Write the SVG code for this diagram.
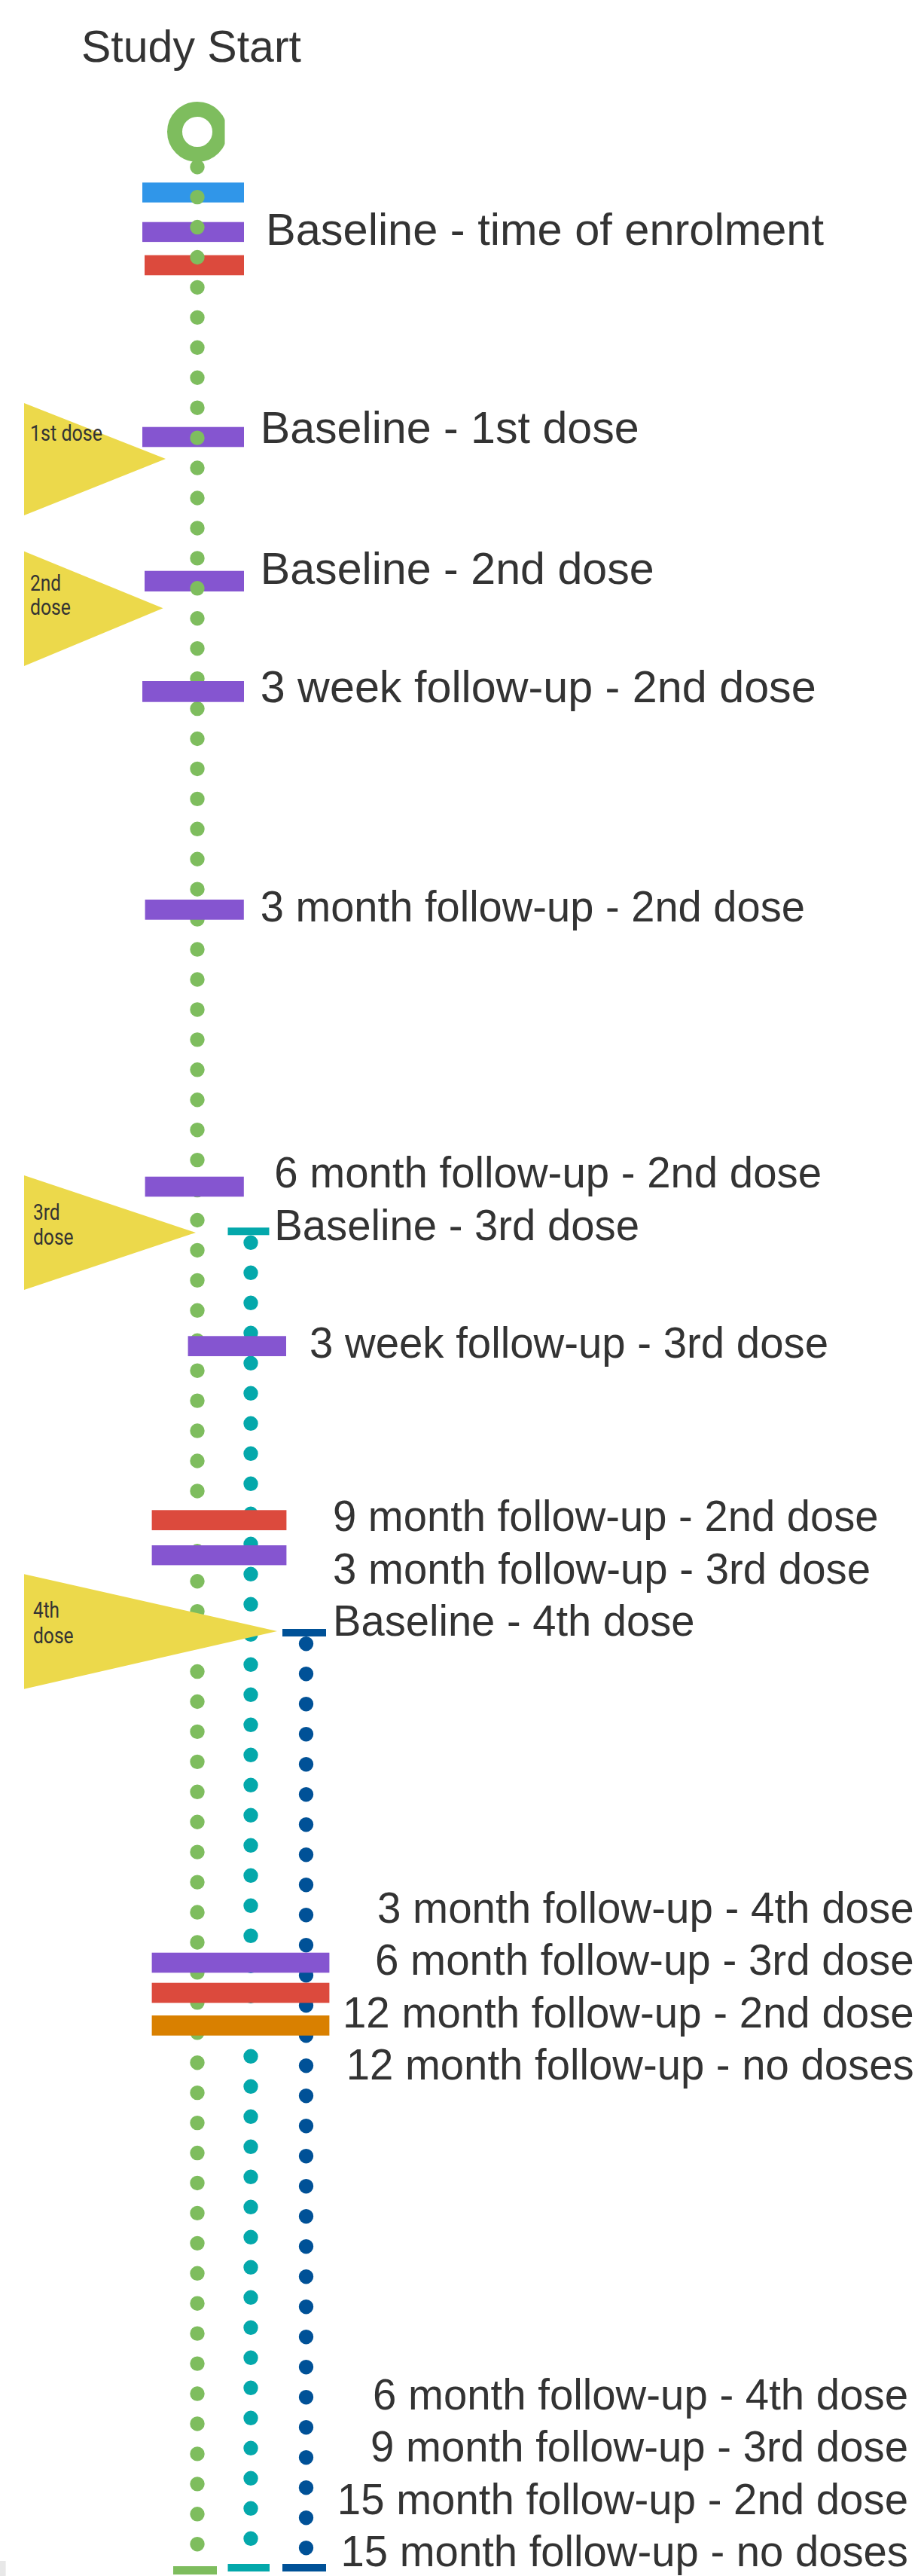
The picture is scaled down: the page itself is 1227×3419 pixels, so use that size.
<svg xmlns="http://www.w3.org/2000/svg" width="1227" height="3419" viewBox="0 0 1227 3419">
<defs>
<style>
.lbl{font-family:"Liberation Sans",Arial,sans-serif;fill:#333333;}
.big{font-size:59.5px;}
.med{font-size:56.5px;}
.dose{font-family:Roboto,"Liberation Sans",sans-serif;font-size:30px;fill:#333333;}
.tri{fill:#ECD94B;}
.blue{fill:#3096E9;}
.purple{fill:#8555D0;}
.red{fill:#DC4A3D;}
.orange{fill:#D98000;}
.teal{fill:#04A8AB;}
.navy{fill:#005197;}
.green{fill:#7EBD5E;}
.dots{fill:none;stroke-linecap:round;stroke-width:19.4;}
</style>
<clipPath id="ringclip"><rect x="0" y="100" width="298.5" height="140"/></clipPath>
</defs>
<rect width="1227" height="3419" fill="#ffffff"/>
<rect x="0" y="3399" width="7.6" height="20" fill="#E8E8E8"/>

<g id="study-start">
<text class="lbl" x="108" y="82" font-size="59" textLength="292" lengthAdjust="spacingAndGlyphs">Study Start</text>
<circle cx="262" cy="175" r="30" fill="none" stroke="#7EBD5E" stroke-width="20" clip-path="url(#ringclip)"/>
</g>

<!-- bars drawn beneath the dots -->
<g id="baseline-enrolment">
<rect class="blue" x="189" y="242.3" width="135" height="26.4"/>
<rect class="purple" x="189" y="294.7" width="135" height="26.4"/>
<rect class="red" x="192" y="338.7" width="132" height="26.6"/>
<text class="lbl big" x="353" y="325" textLength="741" lengthAdjust="spacingAndGlyphs">Baseline - time of enrolment</text>
</g>
<g id="baseline-1st-dose">
<rect class="purple" x="189" y="566.7" width="135" height="26.6"/>
<text class="lbl big" x="345.7" y="588.3" textLength="503" lengthAdjust="spacingAndGlyphs">Baseline - 1st dose</text>
</g>
<g id="baseline-2nd-dose">
<rect class="purple" x="192" y="757.7" width="132" height="27.3"/>
<text class="lbl big" x="345.7" y="775" textLength="523" lengthAdjust="spacingAndGlyphs">Baseline - 2nd dose</text>
</g>

<g id="connectors">
<line class="dots" x1="262" y1="221.7" x2="262" y2="3377" stroke="#7EBD5E" stroke-dasharray="0 39.937"/>
<line class="dots" x1="333" y1="1649.3" x2="333" y2="3370" stroke="#04A8AB" stroke-dasharray="0 40"/>
<line class="dots" x1="406.5" y1="2181.7" x2="406.5" y2="3382" stroke="#005197" stroke-dasharray="0 40"/>
<rect class="green" x="230" y="3406" width="58" height="11"/>
<rect class="teal" x="302.5" y="3403" width="55.5" height="10"/>
<rect class="navy" x="375" y="3403" width="58" height="10"/>
</g>

<g id="dose-1">
<polygon class="tri" points="32,535 220,609 32,684"/>
<text class="dose" x="40" y="585" textLength="96" lengthAdjust="spacingAndGlyphs">1st dose</text>
</g>
<g id="dose-2">
<polygon class="tri" points="32,731.7 216.5,807.3 32,884"/>
<text class="dose" x="40" y="784" textLength="41" lengthAdjust="spacingAndGlyphs">2nd</text>
<text class="dose" x="40" y="815.7" textLength="54" lengthAdjust="spacingAndGlyphs">dose</text>
</g>

<g id="followup-3wk-2nd">
<rect class="purple" x="189" y="904" width="135" height="27.7"/>
<text class="lbl big" x="345.7" y="932.3" textLength="738" lengthAdjust="spacingAndGlyphs">3 week follow-up - 2nd dose</text>
</g>
<g id="followup-3mo-2nd">
<rect class="purple" x="192.6" y="1194" width="131.2" height="26.7"/>
<text class="lbl med" x="345.7" y="1223" textLength="723.3" lengthAdjust="spacingAndGlyphs">3 month follow-up - 2nd dose</text>
</g>
<g id="followup-6mo-2nd">
<rect class="purple" x="192.6" y="1561.7" width="131.2" height="26.6"/>
<text class="lbl med" x="364.3" y="1576" textLength="726.7" lengthAdjust="spacingAndGlyphs">6 month follow-up - 2nd dose</text>
</g>
<g id="dose-3">
<polygon class="tri" points="32,1560 260,1636 32,1712"/>
<text class="dose" x="44" y="1619" textLength="35.6" lengthAdjust="spacingAndGlyphs">3rd</text>
<text class="dose" x="44" y="1652" textLength="53.6" lengthAdjust="spacingAndGlyphs">dose</text>
</g>
<g id="baseline-3rd-dose">
<rect class="teal" x="302.5" y="1629.3" width="55" height="10"/>
<text class="lbl med" x="364.3" y="1646" textLength="484.7" lengthAdjust="spacingAndGlyphs">Baseline - 3rd dose</text>
</g>
<g id="followup-3wk-3rd">
<rect class="purple" x="249.6" y="1773.3" width="130.4" height="26.7"/>
<text class="lbl med" x="411" y="1801.7" textLength="689" lengthAdjust="spacingAndGlyphs">3 week follow-up - 3rd dose</text>
</g>
<g id="followup-9mo-2nd">
<rect class="red" x="201.6" y="2004.3" width="178.8" height="26.7"/>
<text class="lbl med" x="442" y="2031.7" textLength="724.6" lengthAdjust="spacingAndGlyphs">9 month follow-up - 2nd dose</text>
</g>
<g id="followup-3mo-3rd">
<rect class="purple" x="201.6" y="2051" width="178.8" height="26.4"/>
<text class="lbl med" x="442" y="2101.7" textLength="714" lengthAdjust="spacingAndGlyphs">3 month follow-up - 3rd dose</text>
</g>
<g id="dose-4">
<polygon class="tri" points="32,2089.3 368,2165 32,2241.7"/>
<text class="dose" x="44" y="2147.3" textLength="35" lengthAdjust="spacingAndGlyphs">4th</text>
<text class="dose" x="44" y="2180.7" textLength="53.6" lengthAdjust="spacingAndGlyphs">dose</text>
</g>
<g id="baseline-4th-dose">
<rect class="navy" x="375" y="2162" width="58" height="10"/>
<text class="lbl med" x="442" y="2170.5" textLength="480.6" lengthAdjust="spacingAndGlyphs">Baseline - 4th dose</text>
</g>
<g id="followup-3mo-4th">
<text class="lbl med" x="501" y="2551.7" textLength="712.7" lengthAdjust="spacingAndGlyphs">3 month follow-up - 4th dose</text>
</g>
<g id="followup-6mo-3rd">
<rect class="purple" x="201.6" y="2591.7" width="235.8" height="26.6"/>
<text class="lbl med" x="498" y="2620.7" textLength="715.7" lengthAdjust="spacingAndGlyphs">6 month follow-up - 3rd dose</text>
</g>
<g id="followup-12mo-2nd">
<rect class="red" x="201.6" y="2631.7" width="235.8" height="26.6"/>
<text class="lbl med" x="455" y="2690.7" textLength="758.7" lengthAdjust="spacingAndGlyphs">12 month follow-up - 2nd dose</text>
</g>
<g id="followup-12mo-none">
<rect class="orange" x="201.6" y="2675" width="235.8" height="26.7"/>
<text class="lbl med" x="459.7" y="2760" textLength="754" lengthAdjust="spacingAndGlyphs">12 month follow-up - no doses</text>
</g>
<g id="followup-6mo-4th">
<text class="lbl med" x="495" y="3198" textLength="711" lengthAdjust="spacingAndGlyphs">6 month follow-up - 4th dose</text>
</g>
<g id="followup-9mo-3rd">
<text class="lbl med" x="492" y="3266.7" textLength="714" lengthAdjust="spacingAndGlyphs">9 month follow-up - 3rd dose</text>
</g>
<g id="followup-15mo-2nd">
<text class="lbl med" x="447.8" y="3336.7" textLength="758.2" lengthAdjust="spacingAndGlyphs">15 month follow-up - 2nd dose</text>
</g>
<g id="followup-15mo-none">
<text class="lbl med" x="452.6" y="3406" textLength="753.4" lengthAdjust="spacingAndGlyphs">15 month follow-up - no doses</text>
</g>
</svg>
